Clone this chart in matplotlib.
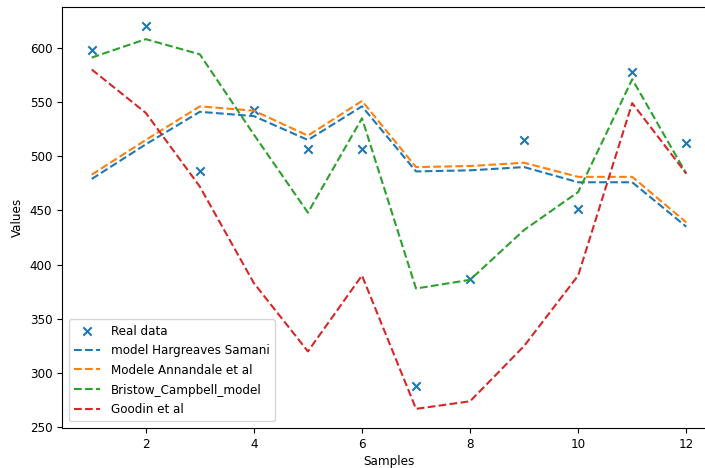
import matplotlib
matplotlib.use("Agg")
import matplotlib.pyplot as plt
import numpy as np

plt.rcParams['font.family'] = ['DejaVu Sans']
plt.rcParams['font.stretch'] = 'condensed'
plt.rcParams['font.size'] = 9.5

samples = np.arange(1, 13)
real_data = [598, 620, 486, 543, 507, 507, 288, 387, 515, 451, 578, 512]
hargreaves = [479, 511, 541, 537, 515, 546, 486, 487, 490, 476, 476, 435]
annandale = [483, 515, 546, 542, 519, 551, 490, 491, 494, 481, 481, 439]
bristow = [591, 608, 594, 520, 448, 535, 378, 386, 432, 467, 571, 484]
goodin = [580, 540, 472, 383, 320, 390, 267, 274, 325, 390, 549, 484]

fig = plt.figure(figsize=(7.05, 4.68), dpi=100)
ax = fig.add_axes([62/705, 1-428/468, (716-62)/705, (428-7)/468])

ax.scatter(samples, real_data, marker='x', color='#1f77b4', label='Real data')
ax.plot(samples, hargreaves, '--', color='#1f77b4', label='model Hargreaves Samani')
ax.plot(samples, annandale, '--', color='#ff7f0e', label='Modele Annandale et al')
ax.plot(samples, bristow, '--', color='#2ca02c', label='Bristow_Campbell_model')
ax.plot(samples, goodin, '--', color='#d62728', label='Goodin et al')

ax.set_xlabel('Samples', labelpad=3)
ax.set_ylabel('Values')
ax.legend(loc='lower left')

fig.savefig('out.png', dpi=100)
